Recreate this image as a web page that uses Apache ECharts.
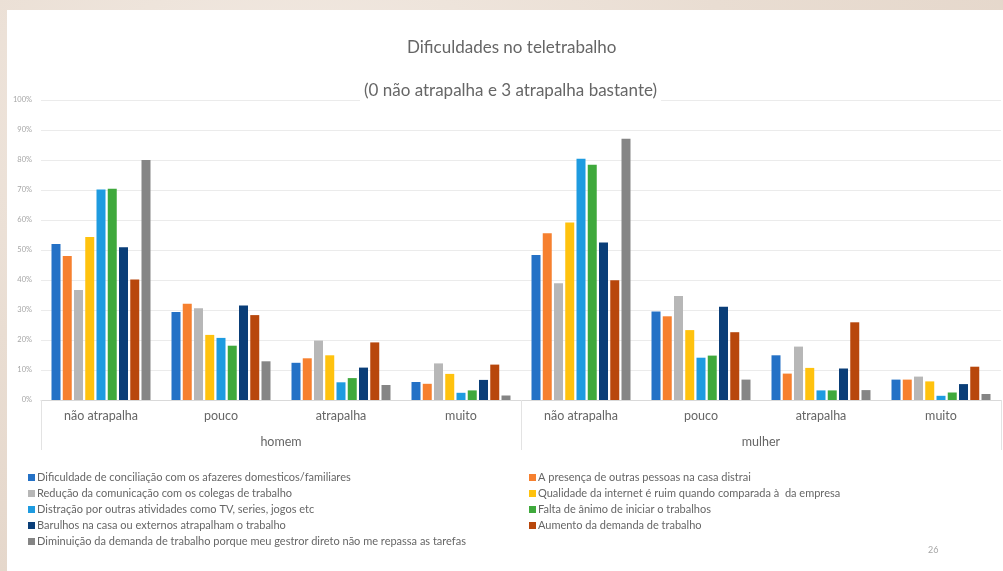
<!DOCTYPE html>
<html>
<head>
<meta charset="utf-8">
<script src="https://cdn.jsdelivr.net/npm/echarts@6/dist/echarts.min.js"></script>
<style>
  html, body { margin: 0; padding: 0; }
  body {
    width: 1003px; height: 571px; overflow: hidden;
    background: radial-gradient(ellipse at 30% 20%, #f3ebe4 0%, #e9ddd2 45%, #e2d3c6 100%);
  }
  #chart { width: 1003px; height: 571px; }
</style>
</head>
<body>
<div id="chart"></div>
<script>
// Answer levels, repeated for each gender group
const levels = ['não atrapalha', 'pouco', 'atrapalha', 'muito'];
const genders = ['homem', 'mulher'];
const categories = genders.flatMap(function (g) { return levels; });

const seriesNames = [
  'Dificuldade de conciliação com os afazeres domesticos/familiares',
  'A presença de outras pessoas na casa distrai',
  'Redução da comunicação com os colegas de trabalho',
  'Qualidade da internet é ruim quando comparada à  da empresa',
  'Distração por outras atividades como TV, series, jogos etc',
  'Falta de ânimo de iniciar o trabalhos',
  'Barulhos na casa ou externos atrapalham o trabalho',
  'Aumento da demanda de trabalho',
  'Diminuição da demanda de trabalho porque meu gestror direto não me repassa as tarefas'
];

// Percent per category: homem (não atrapalha, pouco, atrapalha, muito), mulher (same order)
const conciliacao  = [52.0, 29.3, 12.4, 6.0, 48.3, 29.5, 14.9, 6.8];
const presenca     = [48.0, 32.1, 13.9, 5.4, 55.6, 27.9, 8.8, 6.8];
const comunicacao  = [36.7, 30.6, 19.8, 12.2, 38.9, 34.7, 17.8, 7.8];
const internet     = [54.3, 21.7, 14.9, 8.7, 59.2, 23.3, 10.7, 6.2];
const distracao    = [70.2, 20.7, 5.9, 2.4, 80.4, 14.1, 3.2, 1.4];
const animo        = [70.4, 18.1, 7.3, 3.2, 78.4, 14.8, 3.2, 2.5];
const barulhos     = [50.9, 31.5, 10.8, 6.7, 52.5, 31.1, 10.5, 5.3];
const aumento      = [40.2, 28.3, 19.2, 11.8, 39.9, 22.6, 25.9, 11.1];
const diminuicao   = [80.0, 12.9, 5.0, 1.5, 87.1, 6.8, 3.3, 2.0];

const seriesValues = [conciliacao, presenca, comunicacao, internet, distracao, animo, barulhos, aumento, diminuicao];
const colors = ['#2471C6', '#F6802F', '#B7B7B7', '#FFC20E', '#1E9BE0', '#3FA93C', '#0A3E78', '#B8470C', '#858585'];

const yTicks = { min: 0, max: 100, interval: 10 };
const font = 'Lato, "Open Sans", sans-serif';
const textGray = '#666666';

const chart = echarts.init(document.getElementById('chart'), null, { renderer: 'canvas' });

chart.setOption({
  backgroundColor: 'transparent',
  animation: false,
  color: colors,
  title: [
    {
      text: 'Dificuldades no teletrabalho',
      left: 402, top: 34,
      textStyle: { fontFamily: font, fontSize: 17, fontWeight: 'normal', color: textGray }
    },
    {
      text: '(0 não atrapalha e 3 atrapalha bastante)',
      left: 360, top: 80, z: 10,
      backgroundColor: '#ffffff', padding: [2, 4, 2, 4],
      textStyle: { fontFamily: font, fontSize: 17, fontWeight: 'normal', color: textGray }
    }
  ],
  legend: [
    {
      data: [0, 2, 4, 6, 8].map(function (i) { return seriesNames[i]; }),
      orient: 'vertical', left: 23, top: 467,
      itemWidth: 7, itemHeight: 7, itemGap: 5, icon: 'rect',
      textStyle: { fontFamily: font, fontSize: 11, color: textGray, lineHeight: 10, padding: [0, 0, 0, -3] }
    },
    {
      data: [1, 3, 5, 7].map(function (i) { return seriesNames[i]; }),
      orient: 'vertical', left: 524, top: 467,
      itemWidth: 7, itemHeight: 7, itemGap: 5, icon: 'rect',
      textStyle: { fontFamily: font, fontSize: 11, color: textGray, lineHeight: 10, padding: [0, 0, 0, -3] }
    }
  ],
  grid: { left: 41, right: 2, top: 100, bottom: 171, containLabel: false },
  xAxis: [
    {
      type: 'category',
      data: categories,
      position: 'bottom',
      axisLine: { show: true, lineStyle: { color: '#d9d9d9', width: 1 } },
      axisTick: { show: false },
      axisLabel: { fontFamily: font, fontSize: 12.5, color: textGray, margin: 9, interval: 0 }
    },
    {
      type: 'category',
      data: genders,
      position: 'bottom',
      axisLine: { show: false },
      axisTick: { show: true, length: 50, alignWithLabel: false, lineStyle: { color: '#e3e3e3' } },
      axisLabel: { fontFamily: font, fontSize: 12.5, color: textGray, margin: 35, interval: 0 }
    }
  ],
  yAxis: {
    type: 'value',
    min: yTicks.min, max: yTicks.max, interval: yTicks.interval,
    axisLine: { show: false },
    axisTick: { show: false },
    axisLabel: {
      formatter: '{value}%', fontFamily: font, fontSize: 7.5, color: '#a6a6a6', margin: 9
    },
    splitLine: { lineStyle: { color: '#ebebeb', width: 1 } }
  },
  graphic: [
    {
      type: 'rect', z: -10, silent: true,
      shape: { x: 7, y: 10, width: 1000, height: 565 },
      style: { fill: '#ffffff' }
    },
    {
      type: 'text', left: 928, top: 546, silent: true,
      style: { text: '26', fontFamily: font, fontSize: 9, fill: '#a6a6a6' }
    }
  ],
  series: seriesValues.map(function (vals, i) {
    return {
      name: seriesNames[i],
      type: 'bar',
      xAxisIndex: 0,
      data: vals,
      barWidth: 9,
      barGap: '25%',
      itemStyle: { color: colors[i] }
    };
  })
});
</script>
</body>
</html>
